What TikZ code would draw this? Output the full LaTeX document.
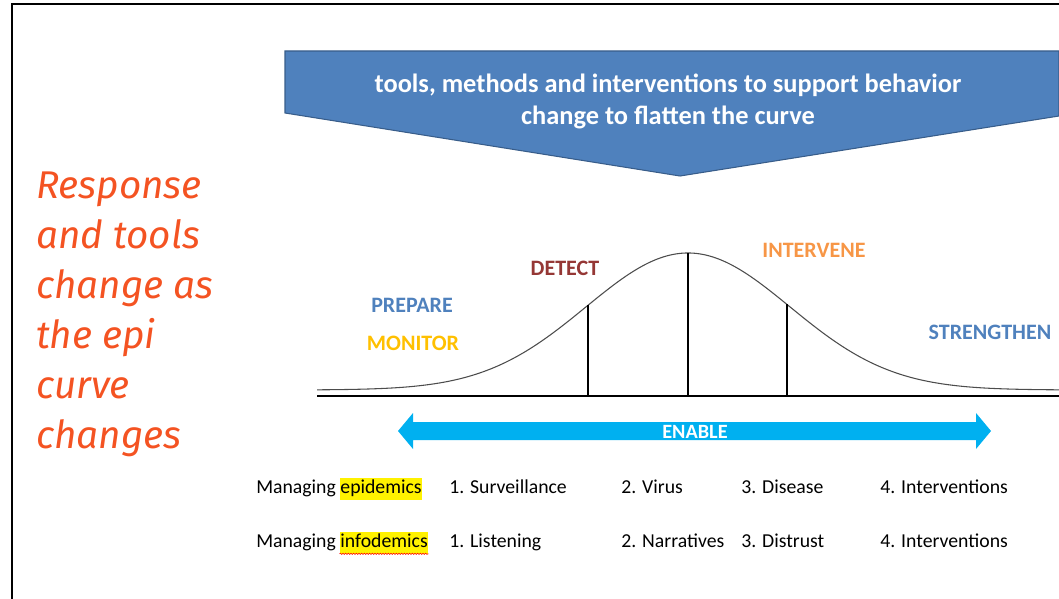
\documentclass[tikz,border=0pt]{standalone}
\usepackage{fontspec}
\setmainfont{Carlito}
\newfontfamily\handfont{Fira Sans}
\usetikzlibrary{positioning,calc,decorations.pathmorphing}

\definecolor{bannerblue}{RGB}{79,129,189}
\definecolor{bannerrim}{RGB}{56,93,138}
\definecolor{handorange}{RGB}{244,83,34}
\definecolor{monitorgold}{RGB}{255,192,0}
\definecolor{detectred}{RGB}{149,55,53}
\definecolor{interveneorange}{RGB}{247,150,70}
\definecolor{enablecyan}{RGB}{0,176,240}

\tikzset{
  phase/.style={font=\bfseries\fontsize{16.5}{19}\selectfont, inner sep=0pt},
  row/.style={font=\fontsize{14.8}{17}\selectfont, anchor=west, inner sep=0pt,
    text height=10.5pt, text depth=3.3pt},
  hilite/.style={row, fill=yellow, inner xsep=0.5pt, inner ysep=1pt}
}

\begin{document}
\begin{tikzpicture}[x=0.75pt, y=-0.75pt]
\useasboundingbox (0,0) rectangle (1059,599);
\draw[line width=1.5pt] (12,599) -- (12,4) -- (1059,4);
% banner
\filldraw[fill=bannerblue, draw=bannerrim, line width=0.8pt]
  (285,51) -- (1059,51) -- (1059,116) -- (680,176) -- (285,113) -- cycle;
\node[text=white, align=center, font=\bfseries\fontsize{19.8}{24}\selectfont] (banner) at (668,101)
  {tools, methods and interventions to support behavior\\ change to flatten the curve};
% left text
\node[anchor=north west, align=left, text=handorange, inner sep=0pt,
  font=\handfont\itshape\fontsize{29}{37.5}\selectfont] (lefttext) at (36,172)
  {Response\\and tools\\change as\\the epi\\curve\\changes};
% curve
\draw[line width=1pt] (317,396) -- (1059,396);
\draw[domain=317:1059, samples=160, smooth, line width=0.8pt, black!70]
  plot (\x, {390-137*exp(-0.5*((\x-688)/102)^2)});
\foreach \px in {588,688,787}
  \draw[line width=1.4pt] (\px,396) -- (\px,{390-137*exp(-0.5*((\px-688)/102)^2)});
\node[phase, text=bannerblue] (prepare) at (412,305) {PREPARE};
\node[phase, text=monitorgold] (monitor) at (413,343) {MONITOR};
\node[phase, text=detectred] (detect) at (565,268) {DETECT};
\node[phase, text=interveneorange] (intervene) at (814,250) {INTERVENE};
\node[phase, text=bannerblue] (strengthen) at (990,332) {STRENGTHEN};
% enable arrow
\fill[enablecyan] (398,431) -- (413,413) -- (413,422) -- (976,422) -- (976,413)
  -- (991,431) -- (976,449) -- (976,440) -- (413,440) -- (413,449) -- cycle;
\node[text=white, font=\bfseries\fontsize{15.2}{17}\selectfont, inner sep=0pt] (enable) at (695,432) {ENABLE};
% table
\node[row] (epiman) at (256,489) {Managing};
\node[hilite, right=2.5pt of epiman] (epiword) {epidemics};
\node[row] (epione) at (449,489) {1. Surveillance};
\node[row] (epitwo) at (621,489) {2. Virus};
\node[row] (epithree) at (741,489) {3. Disease};
\node[row] (epifour) at (880,489) {4. Interventions};
\node[row] (infoman) at (256,543) {Managing};
\node[hilite, right=2.5pt of infoman] (infoword) {infodemics};
\node[row] (infoone) at (449,543) {1. Listening};
\node[row] (infotwo) at (621,543) {2. Narratives};
\node[row] (infothree) at (741,543) {3. Distrust};
\node[row] (infofour) at (880,543) {4. Interventions};
\draw[red, line width=0.4pt, decorate, decoration={snake, amplitude=0.5pt, segment length=2pt}]
  (infoword.south west) -- (infoword.south east);
\end{tikzpicture}
\end{document}
